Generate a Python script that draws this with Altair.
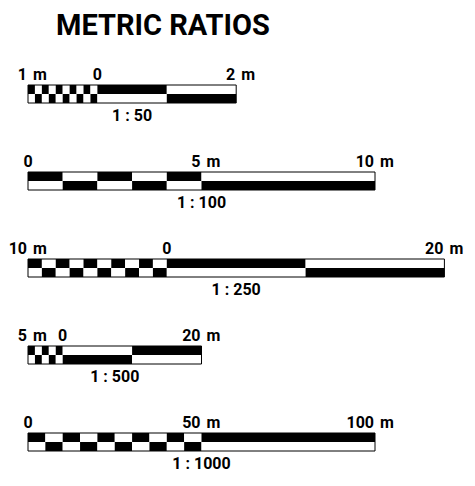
import altair as alt
import pandas as pd

title_text = "METRIC  RATIOS"
denominators = [50, 100, 250, 500, 1000]
ratio_labels = ["1 : 50", "1 : 100", "1 : 250", "1 : 500", "1 : 1000"]
left_ends = [-1, 0, -10, -5, 0]        # metres at the left end of each bar
split_points = [0, 5, 0, 0, 50]         # end of the finely divided (checker) part
right_ends = [2, 10, 20, 20, 100]       # metres at the right end of each bar
checker_counts = [10, 5, 10, 5, 10]     # number of fine divisions
coarse_edges = [[0, 1, 2], [5, 10], [0, 10, 20], [0, 10, 20], [50, 100]]
coarse_top = [["black", "white"], ["white"], ["black", "white"], ["white", "black"], ["black"]]
tick_values = [[-1, 0, 2], [0, 5, 10], [-10, 0, 20], [-5, 0, 20], [0, 50, 100]]
tick_numbers = [["1", "0", "2"], ["0", "5", "10"], ["10", "0", "20"], ["5", "0", "20"], ["0", "50", "100"]]

PX_PER_M_AT_1_100 = 34.7
BAR_H = 18
FONT = "Roboto"
INK = "#000000"
PAPER = "#ffffff"


def other(c):
    return "white" if c == "black" else "black"


def panel(i):
    lo, hi = left_ends[i], right_ends[i]
    segs = []
    n = checker_counts[i]
    step = (split_points[i] - lo) / n
    for k in range(n):
        a = lo + k * step
        top = "black" if k % 2 == 0 else "white"
        segs.append(dict(x=a, x2=a + step, y=1, y2=2, fill=top))
        segs.append(dict(x=a, x2=a + step, y=0, y2=1, fill=other(top)))
    edges = coarse_edges[i]
    start = split_points[i]
    for e, top in zip(edges if edges[0] != start else edges[1:], coarse_top[i]):
        segs.append(dict(x=start, x2=e, y=1, y2=2, fill=top))
        segs.append(dict(x=start, x2=e, y=0, y2=1, fill=other(top)))
        start = e
    df = pd.DataFrame(segs)
    df["fill"] = df["fill"].map({"black": INK, "white": PAPER})

    xs = alt.Scale(domain=[lo, hi], nice=False, zero=False)
    ys = alt.Scale(domain=[0, 2], nice=False, zero=False)

    rects = alt.Chart(df).mark_rect(strokeWidth=0).encode(
        x=alt.X("x:Q", scale=xs, axis=None),
        x2="x2:Q",
        y=alt.Y("y:Q", scale=ys, axis=None),
        y2="y2:Q",
        color=alt.Color("fill:N", scale=None),
    )
    outline = alt.Chart(pd.DataFrame({"x": [lo], "x2": [hi], "y": [0], "y2": [2]})).mark_rect(
        fillOpacity=0, stroke=INK, strokeWidth=1
    ).encode(x="x:Q", x2="x2:Q", y="y:Q", y2="y2:Q")

    ticks = pd.DataFrame({"v": tick_values[i], "num": tick_numbers[i]})
    zero = ticks[ticks["v"] == 0]
    nonzero = ticks[ticks["v"] != 0]
    tstyle = dict(font=FONT, fontSize=16, fontWeight="bold", color=INK, baseline="alphabetic")

    zero_lbl = alt.Chart(zero).mark_text(align="center", **tstyle).encode(
        x="v:Q", y=alt.value(-5), text="num:N")
    num_lbl = alt.Chart(nonzero).mark_text(align="right", dx=-1, **tstyle).encode(
        x="v:Q", y=alt.value(-5), text="num:N")
    m_lbl = alt.Chart(nonzero).mark_text(align="left", dx=5, **tstyle).encode(
        x="v:Q", y=alt.value(-5), text=alt.value("m"))
    ratio_df = pd.DataFrame({"c": [(lo + hi) / 2], "r": [ratio_labels[i]]})
    ratio_lbl = alt.Chart(ratio_df).mark_text(align="center", **tstyle).encode(
        x="c:Q", y=alt.value(BAR_H + 18), text="r:N")

    layers = [rects, outline, zero_lbl, num_lbl, m_lbl, ratio_lbl]
    if i == 0:
        tdf = pd.DataFrame({"t": [title_text]})
        title = alt.Chart(tdf).mark_text(
            align="left", baseline="alphabetic", font=FONT, fontSize=29,
            fontWeight="bold", color=INK
        ).encode(x=alt.value(28), y=alt.value(-50), text="t:N")
        layers.append(title)

    width = (hi - lo) * PX_PER_M_AT_1_100 * 100 / denominators[i]
    return alt.layer(*layers).properties(width=width, height=BAR_H)


chart = alt.vconcat(*[panel(i) for i in range(5)], spacing=69, bounds="flush").properties(
    padding={"left": 0, "top": 4, "right": 0, "bottom": 0}
).configure_view(stroke=None)

chart.save("out.html", embed_options={"renderer": "svg", "actions": False})
